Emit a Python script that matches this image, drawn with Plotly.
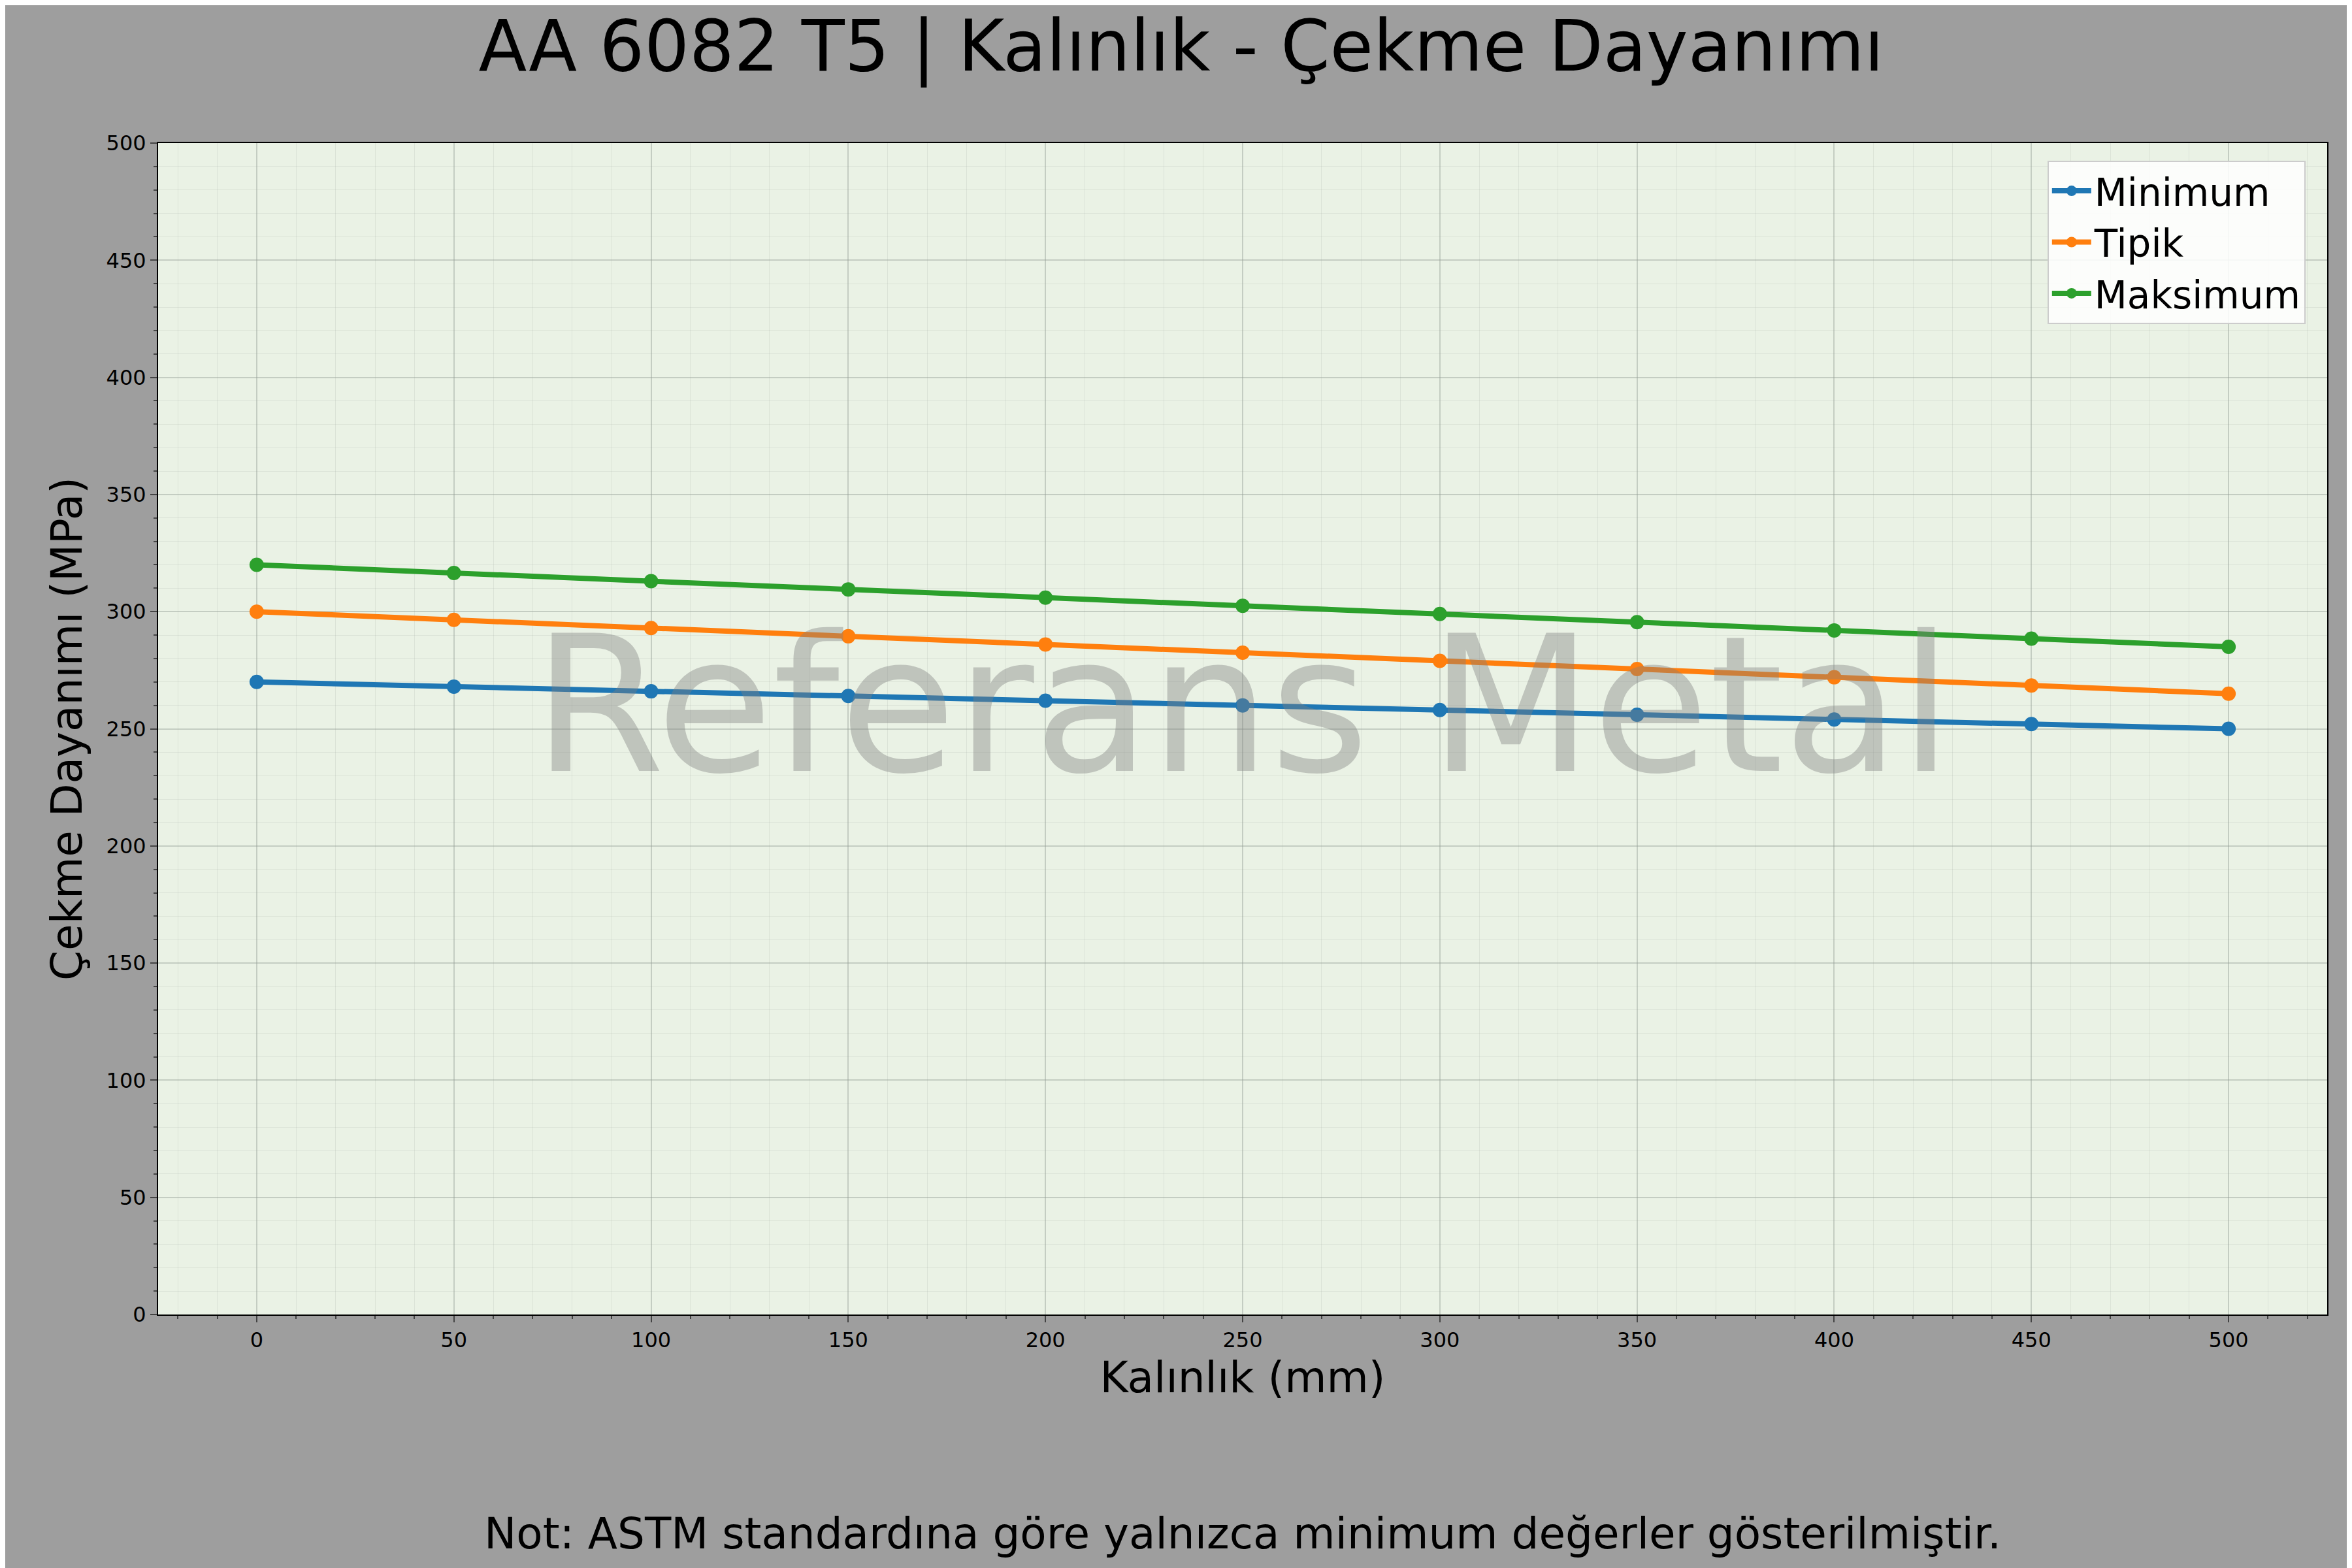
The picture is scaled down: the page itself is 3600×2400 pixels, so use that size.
import plotly.graph_objects as go

thickness = [0, 50, 100, 150, 200, 250, 300, 350, 400, 450, 500]
minimum = [270, 268, 266, 264, 262, 260, 258, 256, 254, 252, 250]
typical = [300, 296.5, 293, 289.5, 286, 282.5, 279, 275.5, 272, 268.5, 265]
maximum = [320, 316.5, 313, 309.5, 306, 302.5, 299, 295.5, 292, 288.5, 285]

series = [("Minimum", minimum, "#1f77b4"),
          ("Tipik", typical, "#ff7f0e"),
          ("Maksimum", maximum, "#2ca02c")]

fig = go.Figure()
for name, vals, color in series:
    fig.add_trace(go.Scatter(x=thickness, y=vals, name=name, mode="lines+markers",
                             line=dict(color=color, width=8), marker=dict(size=22, color=color)))

fig.update_layout(
    width=3600, height=2400,
    paper_bgcolor="#9e9e9e", plot_bgcolor="#eaf2e5",
    font=dict(family="DejaVu Sans", color="black"),
    title=dict(text="AA 6082 T5 | Kalınlık - Çekme Dayanımı", x=0.5, xanchor="center",
               y=0.99, yanchor="top", font=dict(size=108)),
    margin=dict(l=234, r=46, t=211, b=396),
    legend=dict(x=0.99, y=0.985, xanchor="right", yanchor="top", bgcolor="rgba(255,255,255,0.85)",
                bordercolor="#cccccc", borderwidth=2, font=dict(size=58), itemwidth=60),
    annotations=[
        dict(text="Referans Metal", x=0.5, y=0.52, xref="paper", yref="paper", showarrow=False,
             font=dict(size=290, color="rgba(128,128,128,0.4)")),
        dict(text="Not: ASTM standardına göre yalnızca minimum değerler gösterilmiştir.",
             x=0.5, y=0.005, xref="paper", yref="paper", yanchor="bottom", xanchor="center",
             showarrow=False, font=dict(size=66), yshift=-385),
    ],
)
axis_common = dict(showline=True, linecolor="black", linewidth=2, mirror=True,
                   ticks="outside", ticklen=10, tickwidth=2, tickfont=dict(size=32),
                   gridcolor="rgba(150,160,150,0.45)", gridwidth=2, zeroline=False)
fig.update_xaxes(range=[-25, 525], dtick=50, title=dict(text="Kalınlık (mm)", font=dict(size=66)),
                 minor=dict(dtick=10, ticks="outside", ticklen=5, showgrid=True,
                            gridcolor="rgba(160,170,160,0.2)", gridwidth=1), **axis_common)
fig.update_yaxes(range=[0, 500], dtick=50, title=dict(text="Çekme Dayanımı (MPa)", font=dict(size=66)),
                 minor=dict(dtick=10, ticks="outside", ticklen=5, showgrid=True,
                            gridcolor="rgba(160,170,160,0.2)", gridwidth=1), **axis_common)

fig.write_html("out.html")
